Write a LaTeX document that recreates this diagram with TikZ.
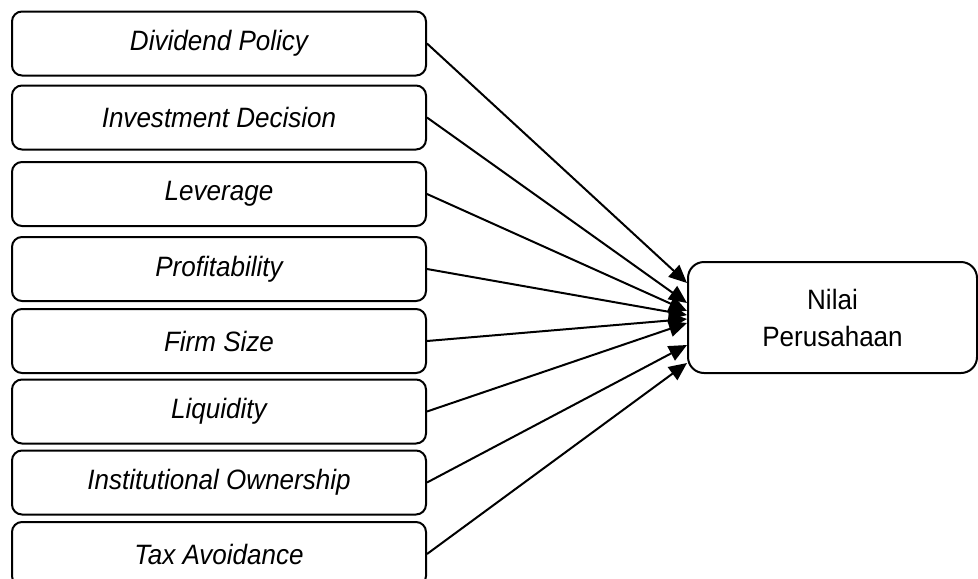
\documentclass[tikz,border=0pt]{standalone}
\usepackage{fontspec}
\setmainfont[FakeStretch=0.93]{Liberation Sans}
\usetikzlibrary{arrows.meta}

\begin{document}
\begin{tikzpicture}[x=0.5pt,y=-0.5pt,
        var/.style={draw,line width=1pt,rounded corners=5pt,
            minimum width=207pt,minimum height=32pt,
            font=\itshape\fontsize{14}{16}\selectfont},
        target/.style={draw,line width=1pt,rounded corners=8pt,
            minimum width=144.5pt,minimum height=55.5pt,align=center,
            font=\fontsize{14}{18.5}\selectfont},
        link/.style={line width=1pt,-{Triangle[length=9pt,width=8pt]}}
    ]
    \clip (0,0) rectangle (978,578);

    % Independent variables:
    \foreach \n/\y/\txt in {dp/43.5/Dividend Policy,
                            id/117.5/Investment Decision,
                            lev/194/Leverage,
                            prof/269/Profitability,
                            fs/341/Firm Size,
                            liq/411.5/Liquidity,
                            io/482.5/Institutional Ownership,
                            ta/554/Tax Avoidance}
    \node[var] (\n) at (219,\y) {\txt};

    % Dependent variable:
    \node[target] (nilai) at (832.5,317.5) {Nilai\\Perusahaan};

    % Paths:
    \foreach \n/\dy in {dp/17.25, id/7.25, lev/3.25, prof/1.25,
                        fs/-0.75, liq/-2.75, io/-13.75, ta/-22.75}
    \draw[link] (\n.east) -- ([yshift=\dy pt]nilai.west);
\end{tikzpicture}
\end{document}
